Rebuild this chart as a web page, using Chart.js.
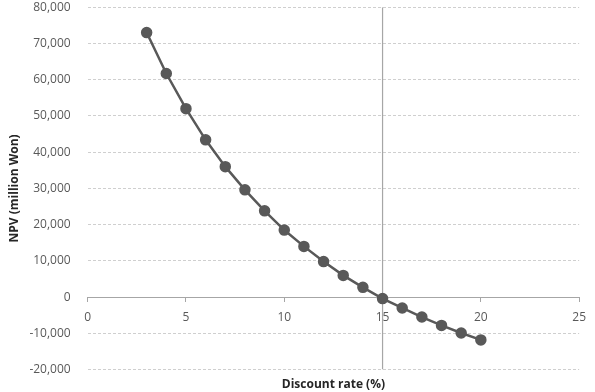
<!DOCTYPE html>
<html>
<head>
<meta charset="utf-8">
<script src="https://cdn.jsdelivr.net/npm/chart.js@4.4.0/dist/chart.umd.min.js"></script>
<style>
    html, body { margin: 0; padding: 0; background: #fff; }
    #wrap { width: 595px; height: 392px; position: relative; }
</style>
</head>
<body>
<div id="wrap"><canvas id="npvChart"></canvas></div>
<script>
// Discount rate (%) and NPV (million Won)
const rates = [3, 4, 5, 6, 7, 8, 9, 10, 11, 12, 13, 14, 15, 16, 17, 18, 19, 20];
const npv = [73000, 61700, 52000, 43400, 36000, 29600, 23800, 18500, 14000, 9800, 6000, 2700, -400, -3000, -5500, -7800, -9900, -11800];

// vertical reference line at 15 %
const refX = [15, 15];
const refY = [-20000, 80000];

const xTicks = [0, 5, 10, 15, 20, 25];
const yTicks = [-20000, -10000, 0, 10000, 20000, 30000, 40000, 50000, 60000, 70000, 80000];

const grey = '#595959';
const tickFont = { family: 'Open Sans', size: 12 };

new Chart(document.getElementById('npvChart'), {
    type: 'scatter',
    data: {
        datasets: [
            {
                label: 'NPV',
                data: rates.map((r, i) => ({ x: r, y: npv[i] })),
                showLine: true,
                borderColor: grey,
                borderWidth: 2.5,
                pointRadius: 4.5,
                pointBackgroundColor: grey,
                pointBorderColor: grey,
                tension: 0,
                order: 0
            },
            {
                label: 'ref',
                data: refX.map((x, i) => ({ x: x, y: refY[i] })),
                showLine: true,
                borderColor: '#a6a6a6',
                borderWidth: 1.2,
                pointRadius: 0,
                order: 1
            }
        ]
    },
    options: {
        responsive: true,
        maintainAspectRatio: false,
        animation: false,
        layout: { padding: { top: 0, right: 8, left: 7, bottom: 0 } },
        plugins: {
            legend: { display: false },
            tooltip: { enabled: false }
        },
        scales: {
            x: {
                type: 'linear',
                position: { y: 0 },
                min: 0,
                max: 25,
                afterBuildTicks: (s) => { s.ticks = xTicks.map(v => ({ value: v })); },
                // axis sits at y = 0, so it should not eat layout space
                afterFit: (s) => { s.height = 0; },
                ticks: { color: grey, font: tickFont, padding: 9 },
                grid: { drawOnChartArea: false, drawTicks: true, tickLength: 4, color: '#a6a6a6' },
                border: { display: true, color: '#a6a6a6', width: 1 }
            },
            x2: {
                type: 'linear',
                position: 'bottom',
                min: 0,
                max: 25,
                ticks: { display: false },
                grid: { display: false, drawTicks: false },
                border: { display: false },
                title: {
                    display: true,
                    text: 'Discount rate (%)',
                    color: '#262626',
                    font: { family: 'Open Sans', size: 12, weight: 'bold' },
                    padding: { top: 8, bottom: 0 }
                }
            },
            y: {
                type: 'linear',
                min: -20000,
                max: 80000,
                afterBuildTicks: (s) => { s.ticks = yTicks.map(v => ({ value: v })); },
                // gap from labels comes from an invisible tick, padding would push the top down
                ticks: { color: grey, font: tickFont, padding: 0 },
                grid: { color: '#cfcfcf', drawTicks: true, tickLength: 17, tickColor: 'rgba(0,0,0,0)' },
                border: { display: false, dash: [3, 2] },
                title: {
                    display: true,
                    text: 'NPV (million Won)',
                    color: '#262626',
                    font: { family: 'Open Sans', size: 12, weight: 'bold' },
                    padding: { top: 0, bottom: 8 }
                }
            }
        }
    }
});
</script>
</body>
</html>
